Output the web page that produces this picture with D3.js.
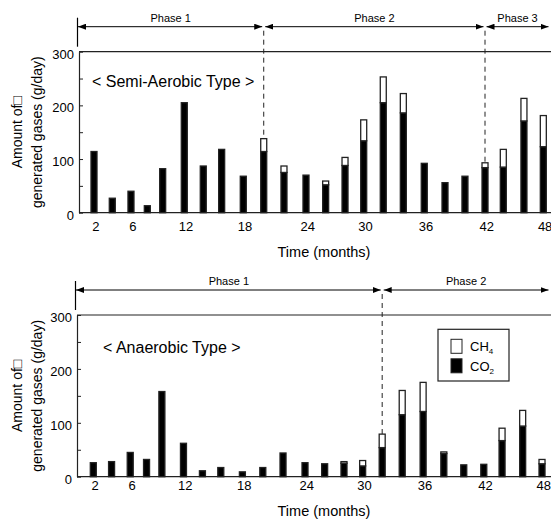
<!DOCTYPE html>
<html>
<head>
<meta charset="utf-8">
<script src="https://cdn.jsdelivr.net/npm/d3@7/dist/d3.min.js"></script>
<style>
  body { margin: 0; background: #fff; }
  svg { display: block; font-family: Arial, "Liberation Sans", sans-serif; }
</style>
</head>
<body>
<svg id="chart" width="551" height="519"></svg>
<script>
// Sampling months (bar categories) and the actual time each sample sits at
const months = [2, 4, 6, 8, 10, 12, 14, 16, 18, 20, 22, 24, 26, 28, 30, 32, 34, 36, 38, 40, 42, 44, 46, 48];
const sampleTime = [2.0, 3.87, 5.78, 7.45, 9.02, 11.23, 13.17, 15.05, 17.26, 19.35, 21.42, 23.67,
  25.68, 27.66, 29.57, 31.57, 33.62, 35.76, 37.88, 39.92, 41.97, 43.84, 45.95, 47.93];
const tickMonths = [2, 6, 12, 18, 24, 30, 36, 42, 48];
const yTicks = [0, 50, 100, 150, 200, 250, 300];

// Semi-aerobic type (g/day)
const semiCO2 = [114, 27, 40, 13, 82, 205, 87, 118, 68, 114, 75, 70, 52, 88, 134, 205, 186, 92, 56, 68, 84, 85, 171, 123];
const semiCH4 = [0, 0, 0, 0, 0, 0, 0, 0, 0, 24, 12, 0, 7, 15, 39, 48, 36, 0, 0, 0, 9, 33, 42, 58];
const semiPhases = ['Phase 1', 'Phase 2', 'Phase 3'];
const semiBreaks = [20, 42];

// Anaerobic type (g/day)
const anaCO2 = [26, 28, 45, 32, 158, 62, 11, 17, 9, 17, 44, 26, 24, 25, 20, 54, 115, 121, 43, 22, 23, 67, 94, 24];
const anaCH4 = [0, 0, 0, 0, 0, 0, 0, 0, 0, 0, 0, 0, 0, 3, 10, 25, 45, 54, 3, 0, 0, 23, 29, 8];
const anaPhases = ['Phase 1', 'Phase 2'];
const anaBreaks = [32];

const legendItems = [
  { name: 'CH', sub: '4', fill: '#fff' },
  { name: 'CO', sub: '2', fill: '#000' }
];

const W = 551;
const INK = '#222';
const svg = d3.select('#chart');

// arrowhead marker for the phase brackets
svg.append('defs').append('marker')
  .attr('id', 'arrow')
  .attr('viewBox', '0 0 8 6')
  .attr('refX', 8).attr('refY', 3)
  .attr('markerWidth', 8).attr('markerHeight', 6)
  .attr('markerUnits', 'userSpaceOnUse')
  .attr('orient', 'auto-start-reverse')
  .append('path')
  .attr('d', 'M0,0 L8,3 L0,6 Z')
  .attr('fill', '#000');

function drawPanel(p) {
  const g = svg.append('g');

  const x = d3.scaleLinear().domain([2, 48]).range(p.xRange);
  const y = d3.scaleLinear().domain([0, 300]).range([p.bottom, p.top]);
  const timeOf = m => sampleTime[months.indexOf(m)];

  // phase boundaries (dashed) - drawn first so bars sit on top
  const breakX = p.breaks.map(m => x(timeOf(m)));
  const arrowY = p.top - 25;
  g.selectAll('.phase-line')
    .data(breakX)
    .join('line')
    .attr('x1', d => d).attr('x2', d => d)
    .attr('y1', arrowY + 4).attr('y2', p.bottom)
    .attr('stroke', INK)
    .attr('stroke-width', 1)
    .attr('stroke-dasharray', '5,4');

  // left end of the bracket
  const bx = p.left - 1.5;
  g.append('line')
    .attr('x1', bx).attr('x2', bx)
    .attr('y1', p.top - 34).attr('y2', p.top - 5)
    .attr('stroke', '#000').attr('stroke-width', 1.2);

  const edges = [bx, ...breakX, W - 1];
  const phases = p.phases.map((name, i) => ({ name, x0: edges[i], x1: edges[i + 1] }));

  g.selectAll('.phase-arrow')
    .data(phases)
    .join('line')
    .attr('x1', (d, i) => d.x0 + (i === 0 ? 0.5 : 1.5))
    .attr('x2', d => d.x1 - 1.5)
    .attr('y1', arrowY).attr('y2', arrowY)
    .attr('stroke', '#000').attr('stroke-width', 1)
    .attr('marker-start', 'url(#arrow)')
    .attr('marker-end', 'url(#arrow)');

  g.selectAll('.phase-label')
    .data(phases)
    .join('text')
    .attr('x', d => (d.x0 + d.x1) / 2)
    .attr('y', p.top - 30)
    .attr('text-anchor', 'middle')
    .attr('font-size', 11)
    .text(d => d.name);

  // stacked bars: CO2 at the bottom, CH4 on top
  const bw = 6;
  const bars = g.selectAll('.bar')
    .data(months.map((m, i) => ({ t: sampleTime[i], co2: p.co2[i], ch4: p.ch4[i] })))
    .join('g');

  bars.append('rect')
    .attr('x', d => x(d.t) - bw / 2)
    .attr('y', d => y(d.co2))
    .attr('width', bw)
    .attr('height', d => y(0) - y(d.co2))
    .attr('fill', '#000')
    .attr('stroke', INK).attr('stroke-width', 1.3);

  bars.filter(d => d.ch4 > 0).append('rect')
    .attr('x', d => x(d.t) - bw / 2)
    .attr('y', d => y(d.co2 + d.ch4))
    .attr('width', bw)
    .attr('height', d => y(d.co2) - y(d.co2 + d.ch4))
    .attr('fill', '#fff')
    .attr('stroke', INK).attr('stroke-width', 1.3);

  // frame: top border and x axis line
  g.append('line')
    .attr('x1', p.left).attr('x2', W)
    .attr('y1', p.top).attr('y2', p.top)
    .attr('stroke', INK).attr('stroke-width', 1.2);
  g.append('line')
    .attr('x1', p.left).attr('x2', W)
    .attr('y1', p.bottom).attr('y2', p.bottom)
    .attr('stroke', INK).attr('stroke-width', 1.2);

  // y axis with inward ticks
  const yAxis = g.append('g')
    .attr('transform', `translate(${p.left},0)`)
    .call(d3.axisLeft(y)
      .tickValues(yTicks)
      .tickSize(-4)
      .tickSizeOuter(0)
      .tickPadding(5)
      .tickFormat(d => d % 100 === 0 ? d : ''));
  yAxis.select('.domain').attr('stroke', INK).attr('stroke-width', 1.2);
  yAxis.selectAll('.tick line').attr('stroke', INK);
  yAxis.selectAll('text')
    .attr('font-size', 13)
    .attr('font-family', null)
    .attr('fill', '#000')
    .attr('dy', '0.5em');

  // x axis labels, placed on the sampled bars
  const xAxis = g.append('g')
    .attr('transform', `translate(0,${p.bottom})`)
    .call(d3.axisBottom(x)
      .tickValues(tickMonths.map(timeOf))
      .tickSize(0)
      .tickPadding(p.xPad)
      .tickFormat((d, i) => tickMonths[i]));
  xAxis.select('.domain').remove();
  xAxis.selectAll('text')
    .attr('font-size', 13)
    .attr('font-family', null)
    .attr('fill', '#000')
    .attr('dx', '0.1em');

  g.append('text')
    .attr('x', 324)
    .attr('y', p.bottom + p.titleGap)
    .attr('text-anchor', 'middle')
    .attr('font-size', 14.5)
    .text('Time (months)');

  // y axis title in two lines
  const midY = (p.top + p.bottom) / 2;
  ['Amount of\u25A1', 'generated gases (g/day)'].forEach((line, i) => {
    g.append('text')
      .attr('transform', `translate(${16.7 + i * 20},${midY}) rotate(-90)`)
      .attr('text-anchor', 'middle')
      .attr('dy', '0.35em')
      .attr('font-size', 14)
      .text(line);
  });

  g.append('text')
    .attr('x', p.typeX)
    .attr('y', p.typeY)
    .attr('font-size', 16)
    .text(p.typeLabel);

  return { g, x, y };
}

drawPanel({
  top: 51.7, bottom: 212.7, left: 79, xRange: [94, 544],
  co2: semiCO2, ch4: semiCH4, phases: semiPhases, breaks: semiBreaks,
  xPad: 9, titleGap: 44,
  typeLabel: '< Semi-Aerobic Type >', typeX: 92, typeY: 87.3
});

const bottom = drawPanel({
  top: 315, bottom: 476.7, left: 77, xRange: [93.3, 542.7],
  co2: anaCO2, ch4: anaCH4, phases: anaPhases, breaks: anaBreaks,
  xPad: 4, titleGap: 39,
  typeLabel: '< Anaerobic Type >', typeX: 103, typeY: 353.3
});

// legend box inside the anaerobic panel
const legend = bottom.g.append('g').attr('transform', 'translate(438,329.3)');
legend.append('rect')
  .attr('width', 71).attr('height', 51.7)
  .attr('fill', '#fff')
  .attr('stroke', INK).attr('stroke-width', 1.2);

const item = legend.selectAll('.item')
  .data(legendItems)
  .join('g')
  .attr('transform', (d, i) => `translate(13,${10 + i * 19.5})`);
item.append('rect')
  .attr('width', 11).attr('height', 14)
  .attr('fill', d => d.fill)
  .attr('stroke', INK).attr('stroke-width', 1);
const label = item.append('text')
  .attr('x', 19).attr('y', 12)
  .attr('font-size', 13);
label.append('tspan').text(d => d.name);
label.append('tspan')
  .attr('font-size', 8)
  .attr('dy', 3)
  .text(d => d.sub);
</script>
</body>
</html>
